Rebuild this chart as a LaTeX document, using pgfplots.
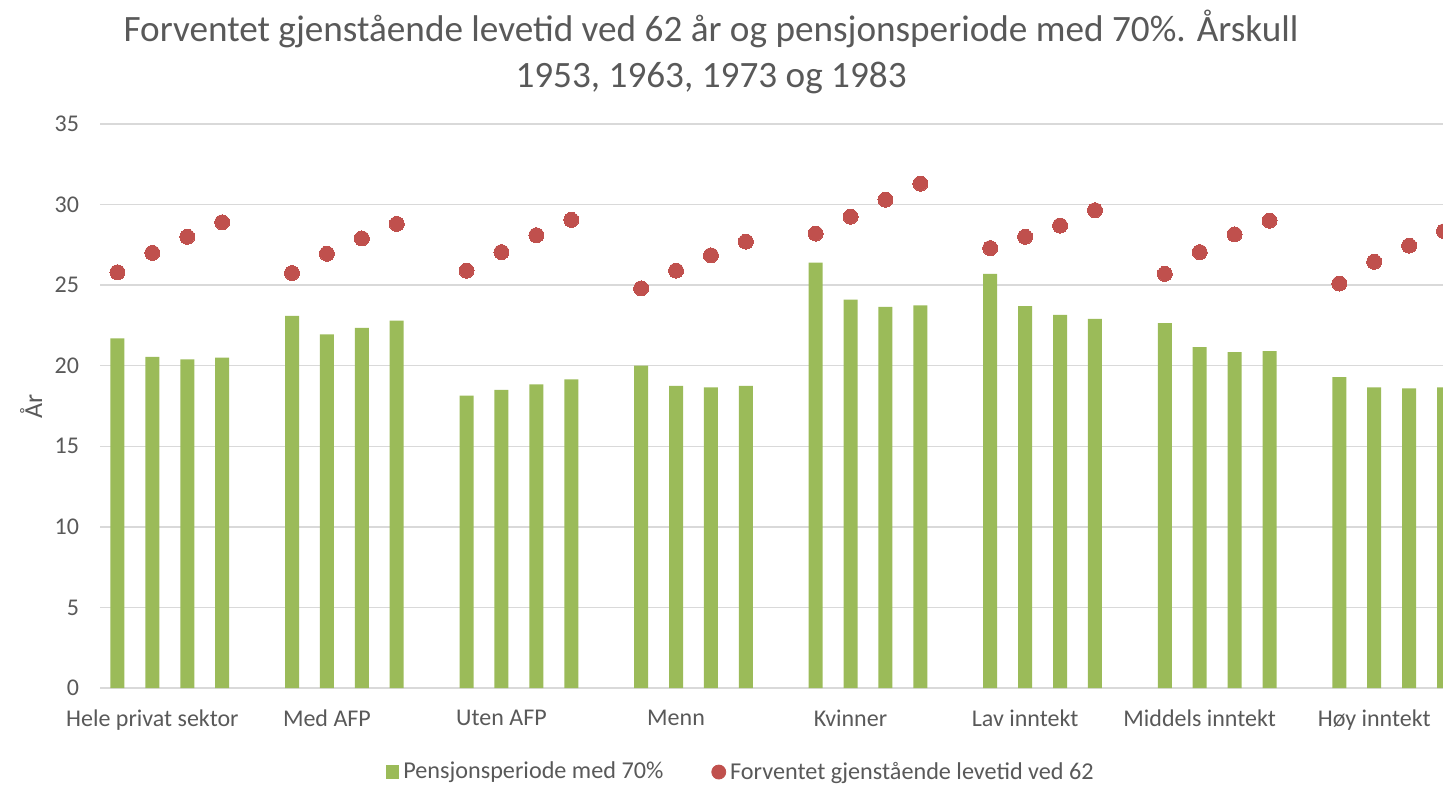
\documentclass[border=0pt]{standalone}
\usepackage{fontspec}
\setmainfont{Carlito}
\usepackage{pgfplots}
\pgfplotsset{compat=1.18}
\definecolor{barGreen}{HTML}{9BBB59}
\definecolor{dotRed}{HTML}{C0504D}
\definecolor{txtGray}{HTML}{595959}
\definecolor{gridGray}{HTML}{D9D9D9}

\begin{document}
\begin{tikzpicture}
% 1 px of the reference = 0.5pt; the chart runs past the right edge of the page
\path[use as bounding box] (0,0) rectangle (721.5pt,392pt);
\node[anchor=base, text=txtGray, font=\fontsize{18.6}{22}\selectfont] at (355.5pt,371pt)
  {Forventet gjenstående levetid ved 62 år og pensjonsperiode med 70\%. Årskull};
\node[anchor=base, text=txtGray, font=\fontsize{18.6}{22}\selectfont] at (355.5pt,348.5pt)
  {1953, 1963, 1973 og 1983};
\begin{axis}[
  at={(50pt,48pt)}, anchor=south west,
  scale only axis,
  width=680.75pt, height=282pt,
  xmin=-0.5, xmax=38.5,
  ymin=0, ymax=35,
  ytick={0,5,...,35},
  xtick={1,6,11,16,21,26,31,36},
  xticklabels={Hele privat sektor,Med AFP,Uten AFP,Menn,Kvinner,Lav inntekt,Middels inntekt,Høy inntekt},
  major tick length=0pt,
  axis line style={draw=none},
  ymajorgrids,
  major grid style={draw=gridGray, line width=0.75pt},
  tick label style={font=\fontsize{12}{14}\selectfont, text=txtGray},
  /pgf/number format/assume math mode=true,
  yticklabel style={xshift=-7pt},
  xticklabel style={yshift=-7.5pt},
  ylabel={År},
  every axis y label/.style={at={(axis description cs:0,0.5)}, xshift=-34.5pt,
    rotate=90, anchor=center, font=\fontsize{13}{15}\selectfont, text=txtGray},
  legend style={at={(axis description cs:0.4713,-0.149)}, anchor=center, draw=none,
    legend columns=-1, font=\fontsize{12.1}{14}\selectfont, text=txtGray,
    /tikz/every even column/.append style={column sep=22pt}},
]
\addplot[ybar, bar width=7pt, fill=barGreen, draw=none,
  legend image code/.code={\fill[barGreen] (0pt,-3.4pt) rectangle (6.8pt,3.4pt);}]
  coordinates {
  (0,21.7) (1,20.55) (2,20.4) (3,20.5)
  (5,23.1) (6,21.95) (7,22.35) (8,22.8)
  (10,18.15) (11,18.5) (12,18.85) (13,19.15)
  (15,20.0) (16,18.75) (17,18.65) (18,18.75)
  (20,26.4) (21,24.1) (22,23.65) (23,23.75)
  (25,25.7) (26,23.7) (27,23.15) (28,22.9)
  (30,22.65) (31,21.15) (32,20.85) (33,20.9)
  (35,19.3) (36,18.65) (37,18.6) (38,18.65)
  };
\addlegendentry{Pensjonsperiode med 70\%}
\addplot[only marks, mark=*, mark size=3.75pt, color=dotRed,
  mark options={draw=dotRed, fill=dotRed, line width=0pt},
  legend image code/.code={\fill[dotRed] (3.5pt,0pt) circle (3.5pt);}]
  coordinates {
  (0,25.8) (1,27.0) (2,28.0) (3,28.9)
  (5,25.75) (6,26.95) (7,27.9) (8,28.8)
  (10,25.9) (11,27.05) (12,28.1) (13,29.05)
  (15,24.8) (16,25.9) (17,26.85) (18,27.7)
  (20,28.2) (21,29.25) (22,30.3) (23,31.3)
  (25,27.3) (26,28.0) (27,28.7) (28,29.65)
  (30,25.7) (31,27.05) (32,28.15) (33,29.0)
  (35,25.1) (36,26.45) (37,27.45) (38,28.35)
  };
\addlegendentry{Forventet gjenstående levetid ved 62}
\end{axis}
\end{tikzpicture}
\end{document}
